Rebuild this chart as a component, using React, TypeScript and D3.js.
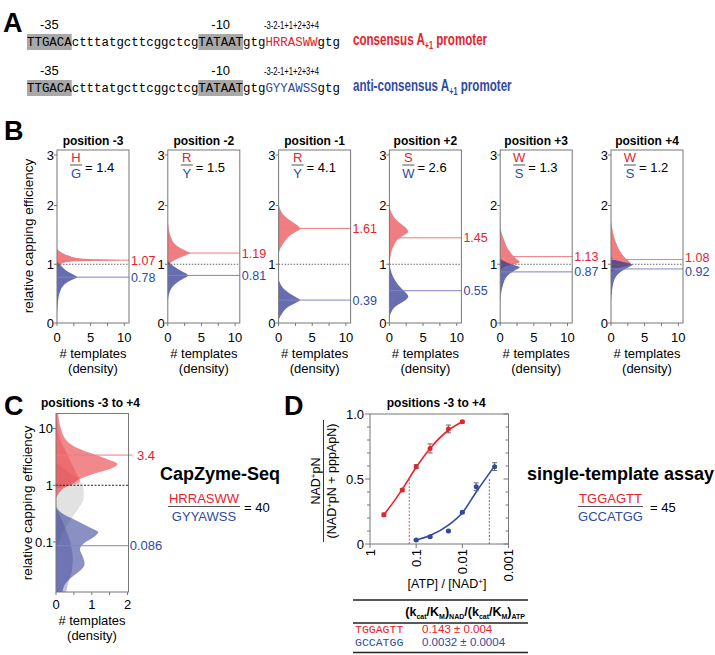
import * as d3 from "d3";

const SANS = "'Liberation Sans', Arial, Helvetica, sans-serif";
const MONO = "'Liberation Mono', 'Courier New', monospace";
const RED = "#e8212b";
const BLUE = "#2f4a9f";
const RED_FILL = "#e8383d";
const BLUE_FILL = "#2c3592";
const AXIS = "#777";

// ---- panel A: promoter sequences ----
const upstreamSeq = "TTGACActttatgcttcggctcgTATAATgtg";
const downstreamSeq = "gtg";
const consensusCore = "HRRASWW";
const antiCore = "GYYAWSS";
const elementLabels = ["-35", "-10"];
const elementStarts = [0, 23];
const corePositions = ["-3", "-2", "-1", "+1", "+2", "+3", "+4"];
const promoterNames = ["consensus", "anti-consensus"];

// ---- panel B: per-position densities ----
const bTitles = ["position -3", "position -2", "position -1", "position +2", "position +3", "position +4"];
const bConsensus = ["H", "R", "R", "S", "W", "W"];
const bAnti = ["G", "Y", "Y", "W", "S", "S"];
const bRatios = ["1.4", "1.5", "4.1", "2.6", "1.3", "1.2"];
const bRedMeans = [1.07, 1.19, 1.61, 1.45, 1.13, 1.08];
const bBlueMeans = [0.78, 0.81, 0.39, 0.55, 0.87, 0.92];
// [relative capping efficiency, density]
const bRedDensity: [number, number][][] = [
  [[1.27, 0], [1.22, 0.4], [1.18, 1.0], [1.14, 1.9], [1.11, 2.8], [1.09, 4.5], [1.07, 9.5], [1.055, 3.5], [1.03, 1.2], [1.0, 0.5], [0.96, 0.15], [0.93, 0]],
  [[1.72, 0], [1.6, 0.15], [1.45, 0.5], [1.35, 1.0], [1.28, 1.8], [1.22, 2.8], [1.19, 3.3], [1.15, 2.6], [1.1, 1.5], [1.05, 0.7], [1.0, 0.2], [0.96, 0]],
  [[2.03, 0], [1.92, 0.3], [1.82, 0.9], [1.73, 1.9], [1.65, 2.9], [1.6, 3.2], [1.55, 2.5], [1.48, 1.6], [1.4, 1.0], [1.32, 0.5], [1.24, 0.15], [1.18, 0]],
  [[2.0, 0], [1.88, 0.3], [1.77, 0.9], [1.68, 1.8], [1.6, 2.6], [1.55, 2.8], [1.5, 2.2], [1.43, 1.3], [1.35, 0.8], [1.25, 0.4], [1.12, 0.15], [1.0, 0]],
  [[1.63, 0], [1.5, 0.3], [1.38, 0.7], [1.25, 1.2], [1.15, 1.9], [1.08, 2.5], [1.04, 2.9], [1.0, 2.0], [0.97, 0.9], [0.93, 0.3], [0.9, 0]],
  [[1.75, 0], [1.6, 0.2], [1.45, 0.5], [1.3, 1.0], [1.18, 1.6], [1.1, 2.2], [1.04, 2.8], [1.0, 3.0], [0.96, 1.8], [0.92, 0.7], [0.88, 0.2], [0.85, 0]],
];
const bBlueDensity: [number, number][][] = [
  [[1.04, 0], [1.0, 0.4], [0.95, 0.8], [0.9, 1.3], [0.85, 2.0], [0.8, 2.8], [0.78, 3.0], [0.75, 2.5], [0.7, 1.6], [0.63, 0.9], [0.55, 0.5], [0.45, 0.25], [0.3, 0.1], [0.1, 0]],
  [[1.06, 0], [1.0, 0.5], [0.95, 1.1], [0.9, 1.8], [0.85, 2.6], [0.81, 3.0], [0.76, 2.4], [0.7, 1.5], [0.63, 0.8], [0.55, 0.35], [0.45, 0.1], [0.35, 0]],
  [[0.74, 0], [0.66, 0.3], [0.58, 0.8], [0.5, 1.7], [0.44, 2.6], [0.39, 3.2], [0.34, 2.5], [0.28, 1.5], [0.22, 0.9], [0.15, 0.45], [0.08, 0.1], [0.04, 0]],
  [[1.0, 0], [0.9, 0.2], [0.8, 0.5], [0.7, 1.0], [0.6, 1.7], [0.52, 2.4], [0.45, 2.8], [0.4, 2.5], [0.34, 1.7], [0.28, 0.9], [0.2, 0.35], [0.1, 0]],
  [[1.1, 0], [1.05, 0.6], [1.0, 1.6], [0.95, 2.9], [0.9, 2.2], [0.84, 1.4], [0.76, 0.8], [0.66, 0.45], [0.55, 0.2], [0.42, 0.05], [0.35, 0]],
  [[1.12, 0], [1.06, 1.0], [1.02, 2.5], [0.99, 3.2], [0.95, 2.6], [0.9, 1.8], [0.84, 1.1], [0.76, 0.6], [0.65, 0.3], [0.5, 0.1], [0.35, 0]],
];
const bYTicks = [0, 1, 2, 3];
const bXTicks = [0, 2.5, 5, 7.5, 10];
const bXLabels = [0, 5, 10];

// ---- panel C: all positions ----
const cRedOuter: [number, number][] = [[25, 0.04], [18, 0.06], [10.4, 0.13], [6.1, 0.3], [4.6, 0.58], [3.55, 1.04], [2.9, 1.42], [2.36, 1.72], [1.93, 1.51], [1.58, 1.04], [1.29, 0.67], [1.05, 0.45], [0.91, 0.25], [0.7, 0.07], [0.6, 0]];
const cRedInner: [number, number][] = [[25, 0.01], [10, 0.05], [6, 0.14], [4, 0.27], [3, 0.37], [2, 0.5], [1.5, 0.6], [1.2, 0.68], [1.05, 0.55], [0.95, 0.25], [0.88, 0]];
const cGray: [number, number][] = [[2.5, 0], [1.8, 0.3], [1.3, 0.62], [1.0, 0.74], [0.75, 0.78], [0.55, 0.76], [0.4, 0.64], [0.3, 0.5], [0.22, 0.36], [0.15, 0.2], [0.1, 0.08], [0.07, 0]];
const cBlueOuter: [number, number][] = [[0.42, 0], [0.31, 0.2], [0.237, 0.58], [0.18, 0.95], [0.148, 1.18], [0.12, 1.04], [0.098, 0.81], [0.075, 0.67], [0.053, 0.76], [0.041, 0.8], [0.031, 0.67], [0.024, 0.44], [0.018, 0.25], [0.013, 0.18], [0.01, 0.15]];
const cBlueInner: [number, number][] = [[0.4, 0], [0.3, 0.1], [0.2, 0.22], [0.13, 0.34], [0.08, 0.43], [0.05, 0.47], [0.03, 0.44], [0.02, 0.35], [0.013, 0.28], [0.01, 0.25]];
const cMeans = [3.4, 0.086];
const cMeanLabels = ["3.4", "0.086"];
const cYTicks = [10, 1, 0.1];
const cXTicks = [0, 0.5, 1, 1.5, 2];
const cXLabels = [0, 1, 2];

// ---- panel D: single-template assay ----
const dRedRatio = [0.5, 0.2, 0.1, 0.05, 0.02, 0.01];
const dRedFrac = [0.225, 0.415, 0.595, 0.735, 0.885, 0.94];
const dRedErr = [0.012, 0.01, 0.015, 0.035, 0.03, 0.008];
const dBlueRatio = [0.1, 0.05, 0.02, 0.01, 0.005, 0.002];
const dBlueFrac = [0.03, 0.056, 0.1, 0.245, 0.44, 0.595];
const dBlueErr = [0.006, 0.006, 0.006, 0.008, 0.03, 0.03];
const dRedFitRatio = [0.5, 0.3, 0.2, 0.1, 0.05, 0.02, 0.01];
const dRedFitFrac = [0.225, 0.33, 0.42, 0.59, 0.735, 0.875, 0.94];
const dBlueFitRatio = [0.1, 0.05, 0.02, 0.01, 0.005, 0.002];
const dBlueFitFrac = [0.03, 0.065, 0.145, 0.24, 0.4, 0.6];
const dHalfRatio = [0.141, 0.0026];
const dXTicks = [1, 0.1, 0.01, 0.001];
const dXLabels = ["1", "0.1", "0.01", "0.001"];
const dYMinor = [0.1, 0.2, 0.3, 0.4, 0.6, 0.7, 0.8, 0.9];
const dYMajor = [0, 0.5, 1];
const dYLabels = ["0", "0.5", "1.0"];

const tableSeqs = ["TGGAGTT", "GCCATGG"];
const tableValues = ["0.143 ± 0.004", "0.0032 ± 0.0004"];

function PanelA() {
  const x0 = 27;
  const cw = 7.45;
  const rows = [
    { core: consensusCore, color: RED, y: 46, name: promoterNames[0] },
    { core: antiCore, color: BLUE, y: 92, name: promoterNames[1] },
  ];
  return (
    <g>
      <text x={3} y={32} fontFamily={SANS} fontWeight="bold" fontSize={27}>A</text>
      {rows.map((r, ri) => (
        <g key={ri}>
          {elementStarts.map((s, i) => (
            <g key={i}>
              <rect x={x0 + s * cw} y={r.y - 12} width={6 * cw} height={16} fill="#a8a8a8" />
              <text x={x0 + (s + 3) * cw} y={r.y - 17} textAnchor="middle" fontFamily={SANS} fontSize={13}>
                {elementLabels[i]}
              </text>
            </g>
          ))}
          <text x={x0} y={r.y} fontFamily={MONO} fontSize={12.4} textLength={upstreamSeq.length * cw} lengthAdjust="spacingAndGlyphs">
            {upstreamSeq}
          </text>
          <text x={x0 + upstreamSeq.length * cw} y={r.y} fontFamily={MONO} fontSize={12.4} fill={r.color}
            textLength={r.core.length * cw} lengthAdjust="spacingAndGlyphs">
            {r.core}
          </text>
          <text x={x0 + (upstreamSeq.length + r.core.length) * cw} y={r.y} fontFamily={MONO} fontSize={12.4}
            textLength={downstreamSeq.length * cw} lengthAdjust="spacingAndGlyphs">
            {downstreamSeq}
          </text>
          <text x={x0 + upstreamSeq.length * cw - 1.5} y={r.y - 17} fontFamily={SANS} fontSize={10.5}
            textLength={r.core.length * cw + 3} lengthAdjust="spacingAndGlyphs">
            {corePositions.join("")}
          </text>
          <g transform={`translate(353,${r.y - 1}) scale(0.725,1)`}>
            <text x={0} y={0} fontFamily={SANS} fontWeight="bold" fontSize={16} fill={r.color}>
              {r.name} A
              <tspan fontSize={10} dy={4}>+1</tspan>
              <tspan dy={-4}> promoter</tspan>
            </text>
          </g>
        </g>
      ))}
    </g>
  );
}

function PanelB() {
  const top = 150;
  const bottom = 323;
  const width = 72;
  const by = d3.scaleLinear().domain([0, 2, 3]).range([bottom, 205.5, 155]);
  const bx = d3.scaleLinear().domain([0, 10.7]).range([0, width]);
  const area = d3
    .area<[number, number]>()
    .y((d) => by(d[0]))
    .x0(bx(0))
    .x1((d) => bx(d[1]))
    .curve(d3.curveMonotoneY);
  return (
    <g fontFamily={SANS}>
      <text x={4} y={140} fontWeight="bold" fontSize={27}>B</text>
      <text transform={`translate(33,236) rotate(-90)`} textAnchor="middle" fontSize={13.5}>
        relative capping efficiency
      </text>
      {bTitles.map((title, i) => {
        const left = 57 + i * 110.8;
        const yr = by(bRedMeans[i]);
        const yb = by(bBlueMeans[i]);
        // keep the two mean labels from colliding
        const gap = Math.max(0, 14.5 - (yb - yr)) / 2;
        return (
          <g key={i} transform={`translate(${left},0)`}>
            <text x={width / 2} y={145} textAnchor="middle" fontWeight="bold" fontSize={12}>{title}</text>
            <path d={area(bRedDensity[i]) || ""} fill={RED_FILL} fillOpacity={0.65} />
            <path d={area(bBlueDensity[i]) || ""} fill={BLUE_FILL} fillOpacity={0.72} />
            <line x1={0} x2={width} y1={by(1)} y2={by(1)} stroke="#666" strokeDasharray="1.5,1.5" />
            <line x1={0} x2={width} y1={yr} y2={yr} stroke="#f07a7e" strokeWidth={1} />
            <line x1={0} x2={width} y1={yb} y2={yb} stroke="#7f86c6" strokeWidth={1} />
            <rect x={0} y={top} width={width} height={bottom - top} fill="none" stroke={AXIS} strokeWidth={1} />
            {bYTicks.map((t) => (
              <g key={t}>
                <line x1={-3} x2={0} y1={by(t)} y2={by(t)} stroke={AXIS} />
                <text x={-3} y={by(t)} dy="0.36em" textAnchor="end" fontSize={13}>{t}</text>
              </g>
            ))}
            {bXTicks.map((t) => (
              <line key={t} x1={bx(t)} x2={bx(t)} y1={bottom} y2={bottom + 3} stroke={AXIS} />
            ))}
            {bXLabels.map((t) => (
              <text key={t} x={bx(t)} y={342} textAnchor="middle" fontSize={13}>{t}</text>
            ))}
            <text x={width / 2} y={358} textAnchor="middle" fontSize={13}># templates</text>
            <text x={width / 2} y={373} textAnchor="middle" fontSize={13}>(density)</text>
            <text x={width + 2} y={yr - gap} dy="0.36em" fontSize={12.5} fill={RED}>
              {bRedMeans[i].toFixed(2)}
            </text>
            <text x={width + 2} y={yb + gap} dy="0.36em" fontSize={12.5} fill={BLUE}>
              {bBlueMeans[i].toFixed(2)}
            </text>
            <text x={19} y={162} textAnchor="middle" fontSize={13} fill={RED}>{bConsensus[i]}</text>
            <line x1={13} x2={25} y1={165} y2={165} stroke="#555" />
            <text x={19} y={177.5} textAnchor="middle" fontSize={13} fill={BLUE}>{bAnti[i]}</text>
            <text x={28} y={172} fontSize={13}>= {bRatios[i]}</text>
          </g>
        );
      })}
    </g>
  );
}

function PanelC() {
  const top = 413.5;
  const bottom = 592;
  const left = 56;
  const right = 128.5;
  const cy = d3.scaleLog().domain([0.1, 10]).range([542, 428.5]);
  const cx = d3.scaleLinear().domain([0, 2]).range([left, 127.5]);
  const area = d3
    .area<[number, number]>()
    .y((d) => cy(d[0]))
    .x0(cx(0))
    .x1((d) => cx(d[1]))
    .curve(d3.curveMonotoneY);
  return (
    <g fontFamily={SANS}>
      <defs>
        <clipPath id="clipC">
          <rect x={left} y={top} width={right - left} height={bottom - top} />
        </clipPath>
      </defs>
      <text x={4} y={415} fontWeight="bold" fontSize={27}>C</text>
      <text x={41} y={407} fontWeight="bold" fontSize={12}>positions -3 to +4</text>
      <text transform={`translate(32,503) rotate(-90)`} textAnchor="middle" fontSize={13.5}>
        relative capping efficiency
      </text>
      <g clipPath="url(#clipC)">
        <path d={area(cGray) || ""} fill="#e2e2e2" />
        <path d={area(cRedOuter) || ""} fill={RED_FILL} fillOpacity={0.6} />
        <path d={area(cRedInner) || ""} fill={RED_FILL} fillOpacity={0.35} />
        <path d={area(cBlueOuter) || ""} fill={BLUE_FILL} fillOpacity={0.55} />
        <path d={area(cBlueInner) || ""} fill={BLUE_FILL} fillOpacity={0.3} />
      </g>
      <line x1={left} x2={right} y1={cy(1)} y2={cy(1)} stroke="#222" strokeDasharray="2,1.5" />
      <line x1={left} x2={right + 4} y1={cy(cMeans[0])} y2={cy(cMeans[0])} stroke="#f07a7e" />
      <line x1={left} x2={right} y1={cy(cMeans[1])} y2={cy(cMeans[1])} stroke="#7f86c6" />
      <text x={146} y={cy(cMeans[0])} dy="0.36em" textAnchor="middle" fontSize={13} fill={RED}>{cMeanLabels[0]}</text>
      <text x={146} y={cy(cMeans[1])} dy="0.36em" textAnchor="middle" fontSize={13} fill={BLUE}>{cMeanLabels[1]}</text>
      <rect x={left} y={top} width={right - left} height={bottom - top} fill="none" stroke={AXIS} />
      {cYTicks.map((t) => (
        <g key={t}>
          <line x1={left - 3} x2={left} y1={cy(t)} y2={cy(t)} stroke={AXIS} />
          <text x={left - 3} y={cy(t)} dy="0.36em" textAnchor="end" fontSize={13}>{t}</text>
        </g>
      ))}
      {cXTicks.map((t) => (
        <line key={t} x1={cx(t)} x2={cx(t)} y1={bottom} y2={bottom + 3} stroke={AXIS} />
      ))}
      {cXLabels.map((t) => (
        <text key={t} x={cx(t)} y={609} textAnchor="middle" fontSize={13}>{t}</text>
      ))}
      <text x={92} y={625} textAnchor="middle" fontSize={13}># templates</text>
      <text x={92} y={640} textAnchor="middle" fontSize={13}>(density)</text>

      <text x={160} y={480} fontWeight="bold" fontSize={18}>CapZyme-Seq</text>
      <text x={204} y={503} textAnchor="middle" fontSize={13} fill={RED}>{consensusCore}</text>
      <line x1={168} x2={240} y1={506.5} y2={506.5} stroke="#555" />
      <text x={204} y={521} textAnchor="middle" fontSize={13} fill={BLUE}>{antiCore}</text>
      <text x={244} y={512} fontSize={13}>= 40</text>
    </g>
  );
}

function PanelD() {
  const left = 370;
  const right = 508.5;
  const top = 414;
  const bottom = 544;
  const dx = d3.scaleLog().domain([1, 0.001]).range([left, right]);
  const dy = d3.scaleLinear().domain([0, 1]).range([bottom, top]);
  const line = d3
    .line<[number, number]>()
    .x((d) => dx(d[0]))
    .y((d) => dy(d[1]))
    .curve(d3.curveMonotoneX);
  const redFit = dRedFitRatio.map((r, i) => [r, dRedFitFrac[i]] as [number, number]);
  const blueFit = dBlueFitRatio.map((r, i) => [r, dBlueFitFrac[i]] as [number, number]);
  const series = [
    { ratio: dRedRatio, frac: dRedFrac, err: dRedErr, color: RED },
    { ratio: dBlueRatio, frac: dBlueFrac, err: dBlueErr, color: BLUE },
  ];
  return (
    <g fontFamily={SANS}>
      <text x={284} y={415} fontWeight="bold" fontSize={27}>D</text>
      <text x={(left + right) / 2 - 3} y={407} textAnchor="middle" fontWeight="bold" fontSize={12}>
        positions -3 to +4
      </text>
      <g transform={`translate(323.5,481) rotate(-90)`} fontSize={12.5}>
        <text x={0} y={-4} textAnchor="middle">
          NAD<tspan fontSize={8} dy={-4}>+</tspan>
          <tspan dy={4}>pN</tspan>
        </text>
        <line x1={-61} x2={61} y1={0} y2={0} stroke="#333" />
        <text x={0} y={12} textAnchor="middle">
          (NAD<tspan fontSize={8} dy={-4}>+</tspan>
          <tspan dy={4}>pN + pppApN)</tspan>
        </text>
      </g>
      <rect x={left} y={top} width={right - left} height={bottom - top} fill="none" stroke={AXIS} />
      {dYMinor.map((t) => (
        <g key={t}>
          <line x1={left - 3} x2={left} y1={dy(t)} y2={dy(t)} stroke={AXIS} />
          <line x1={right - 3} x2={right} y1={dy(t)} y2={dy(t)} stroke={AXIS} />
        </g>
      ))}
      {dYMajor.map((t, i) => (
        <g key={t}>
          <line x1={left - 5} x2={left} y1={dy(t)} y2={dy(t)} stroke={AXIS} />
          <line x1={right - 5} x2={right} y1={dy(t)} y2={dy(t)} stroke={AXIS} />
          <text x={left - 6} y={dy(t)} dy="0.36em" textAnchor="end" fontSize={13}>{dYLabels[i]}</text>
        </g>
      ))}
      {dXTicks.map((t, i) => (
        <g key={t}>
          <line x1={dx(t)} x2={dx(t)} y1={bottom} y2={bottom + 4} stroke={AXIS} />
          <text transform={`translate(${dx(t)},${bottom + 5}) rotate(-90)`} dy="0.36em" textAnchor="end" fontSize={13}>
            {dXLabels[i]}
          </text>
        </g>
      ))}
      <text x={447} y={588} textAnchor="middle" fontSize={12.5}>
        [ATP] / [NAD<tspan fontSize={8} dy={-4}>+</tspan>
        <tspan dy={4}>]</tspan>
      </text>
      {dHalfRatio.map((r, i) => (
        <line key={i} x1={dx(r)} x2={dx(r)} y1={dy(0.5)} y2={bottom} stroke={i === 0 ? RED : BLUE}
          strokeWidth={0.8} strokeDasharray="2,1.5" />
      ))}
      <path d={line(redFit) || ""} fill="none" stroke={RED} strokeWidth={1.6} />
      <path d={line(blueFit) || ""} fill="none" stroke={BLUE} strokeWidth={1.6} />
      {series.map((s, si) => (
        <g key={si}>
          {s.ratio.map((r, i) => (
            <g key={i}>
              <line x1={dx(r)} x2={dx(r)} y1={dy(s.frac[i] - s.err[i])} y2={dy(s.frac[i] + s.err[i])} stroke="#666" />
              <line x1={dx(r) - 2.5} x2={dx(r) + 2.5} y1={dy(s.frac[i] - s.err[i])} y2={dy(s.frac[i] - s.err[i])} stroke="#666" />
              <line x1={dx(r) - 2.5} x2={dx(r) + 2.5} y1={dy(s.frac[i] + s.err[i])} y2={dy(s.frac[i] + s.err[i])} stroke="#666" />
              <circle cx={dx(r)} cy={dy(s.frac[i])} r={2.5} fill={s.color} />
            </g>
          ))}
        </g>
      ))}

      <text x={527} y={480} fontWeight="bold" fontSize={18}>single-template assay</text>
      <text x={610.5} y={503} textAnchor="middle" fontSize={13} fill={RED}>{tableSeqs[0]}</text>
      <line x1={578} x2={643} y1={506.5} y2={506.5} stroke="#555" />
      <text x={610.5} y={521} textAnchor="middle" fontSize={13} fill={BLUE}>{tableSeqs[1]}</text>
      <text x={650} y={512} fontSize={13}>= 45</text>

      {/* table */}
      <line x1={353} x2={528} y1={600} y2={600} stroke="#222" strokeWidth={1.3} />
      <text x={525} y={616} textAnchor="end" fontWeight="bold" fontSize={12.5}>
        (k<tspan fontSize={7} dy={2.5}>cat</tspan>
        <tspan dy={-2.5}>/K</tspan>
        <tspan fontSize={7} dy={2.5}>M</tspan>
        <tspan dy={-2.5}>)</tspan>
        <tspan fontSize={7} dy={2.5}>NAD</tspan>
        <tspan dy={-2.5}>/(k</tspan>
        <tspan fontSize={7} dy={2.5}>cat</tspan>
        <tspan dy={-2.5}>/K</tspan>
        <tspan fontSize={7} dy={2.5}>M</tspan>
        <tspan dy={-2.5}>)</tspan>
        <tspan fontSize={7} dy={2.5}>ATP</tspan>
      </text>
      <line x1={353} x2={528} y1={623} y2={623} stroke="#222" strokeWidth={1.3} />
      {tableSeqs.map((s, i) => (
        <g key={s}>
          <text x={355} y={633 + i * 13} fontFamily={MONO} fontSize={11.5} fill={i === 0 ? RED : BLUE}>{s}</text>
          <text x={422} y={633 + i * 13} fontSize={11.5} fill={i === 0 ? RED : BLUE}>{tableValues[i]}</text>
        </g>
      ))}
      <line x1={353} x2={528} y1={652.5} y2={652.5} stroke="#222" strokeWidth={1.3} />
    </g>
  );
}

export default function App() {
  return (
    <svg width={715} height={655} style={{ position: "absolute", left: 0, top: 0, background: "#fff" }}>
      <PanelA />
      <PanelB />
      <PanelC />
      <PanelD />
    </svg>
  );
}
